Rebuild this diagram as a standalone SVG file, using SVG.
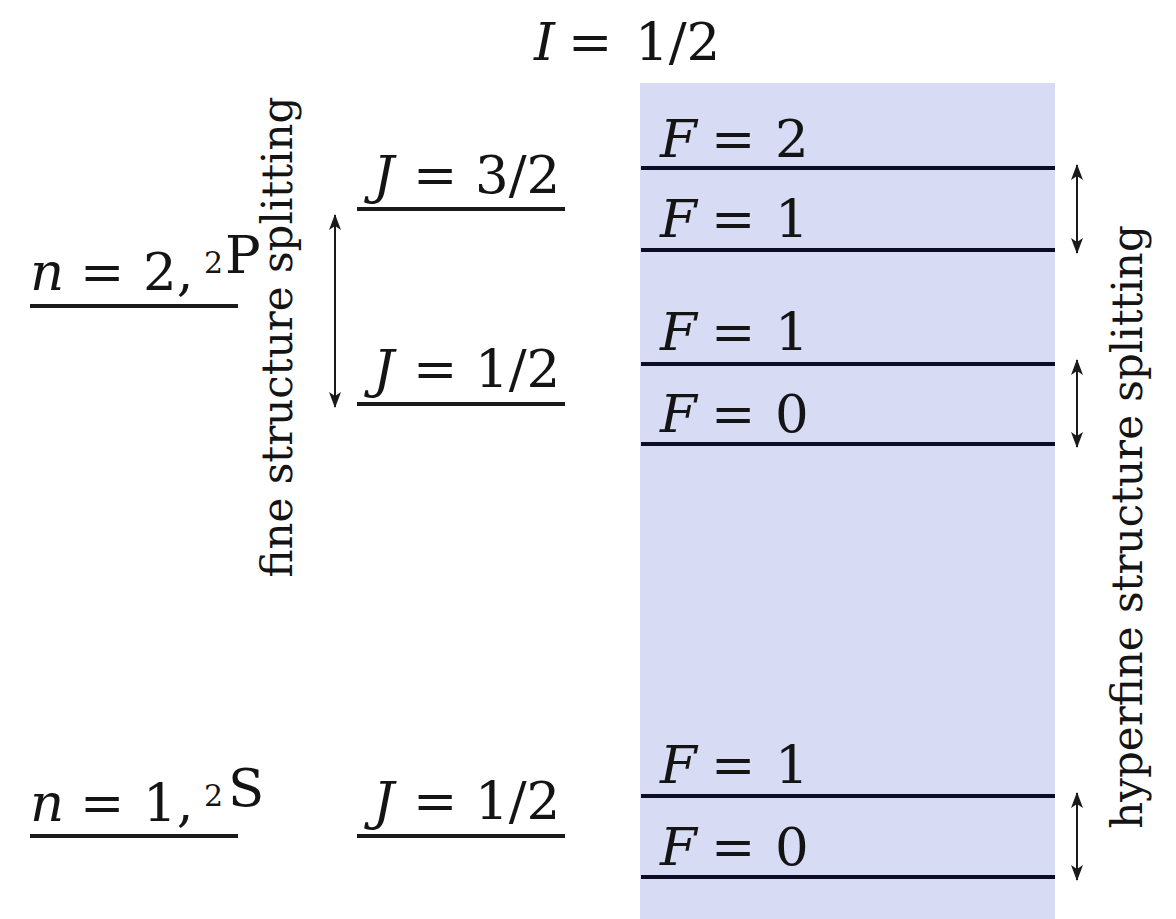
<svg xmlns="http://www.w3.org/2000/svg" width="1176" height="919" viewBox="0 0 1176 919">
<style>
text{font-family:"DejaVu Serif","Liberation Serif",serif;fill:#141414;}
.lab{font-size:53px;}
.it{font-style:italic;}
.sup{font-size:30px;}
.rot{font-size:42px;}
.lvl{stroke:#1a1a1a;stroke-width:4;fill:none;}
.hf{stroke:#0c0c24;stroke-width:4;fill:none;}
.arr{stroke:#1a1a1a;stroke-width:2;fill:none;marker-start:url(#ah);marker-end:url(#ah);}
</style>
<defs>
<marker id="ah" viewBox="0 0 16 12" refX="15" refY="6" markerWidth="16" markerHeight="12" markerUnits="userSpaceOnUse" orient="auto-start-reverse">
<path d="M0,0 L16,6 L0,12 L4,6 Z" fill="#1a1a1a"/>
</marker>
</defs>
<rect id="hyperfine-band" x="640" y="83" width="415" height="836" fill="#d7dbf4"/>
<g id="title"><text class="lab" y="60"><tspan class="it" x="534">I</tspan><tspan x="568">=</tspan><tspan x="635">1/2</tspan></text></g>
<g id="n2">
<line class="lvl" x1="30" y1="306" x2="238" y2="306"/>
<text class="lab" y="290"><tspan class="it" x="30">n</tspan><tspan x="80">=</tspan><tspan x="143">2,</tspan></text>
<text class="sup" x="204" y="273">2</text>
<text class="lab" x="225" y="273">P</text>
</g>
<g id="n1">
<line class="lvl" x1="30" y1="836" x2="238" y2="836"/>
<text class="lab" y="821"><tspan class="it" x="30">n</tspan><tspan x="80">=</tspan><tspan x="143">1,</tspan></text>
<text class="sup" x="204" y="806">2</text>
<text class="lab" x="228" y="806">S</text>
</g>
<g id="j32">
<line class="lvl" x1="357" y1="209" x2="565" y2="209"/>
<text class="lab" y="193"><tspan class="it" x="373">J</tspan><tspan x="413">=</tspan><tspan x="475">3/2</tspan></text>
</g>
<g id="j12p">
<line class="lvl" x1="357" y1="404" x2="565" y2="404"/>
<text class="lab" y="387"><tspan class="it" x="373">J</tspan><tspan x="413">=</tspan><tspan x="475">1/2</tspan></text>
</g>
<g id="j12s">
<line class="lvl" x1="357" y1="836" x2="565" y2="836"/>
<text class="lab" y="819"><tspan class="it" x="373">J</tspan><tspan x="413">=</tspan><tspan x="475">1/2</tspan></text>
</g>
<g id="f2"><line class="hf" x1="641" y1="168" x2="1055" y2="168"/><text class="lab" y="157"><tspan class="it" x="660">F</tspan><tspan x="711">=</tspan><tspan x="775">2</tspan></text></g>
<g id="f1a"><line class="hf" x1="641" y1="250" x2="1055" y2="250"/><text class="lab" y="237"><tspan class="it" x="660">F</tspan><tspan x="711">=</tspan><tspan x="775">1</tspan></text></g>
<g id="f1b"><line class="hf" x1="641" y1="364" x2="1055" y2="364"/><text class="lab" y="350"><tspan class="it" x="660">F</tspan><tspan x="711">=</tspan><tspan x="775">1</tspan></text></g>
<g id="f0b"><line class="hf" x1="641" y1="444" x2="1055" y2="444"/><text class="lab" y="432"><tspan class="it" x="660">F</tspan><tspan x="711">=</tspan><tspan x="775">0</tspan></text></g>
<g id="f1c"><line class="hf" x1="641" y1="796" x2="1055" y2="796"/><text class="lab" y="783"><tspan class="it" x="660">F</tspan><tspan x="711">=</tspan><tspan x="775">1</tspan></text></g>
<g id="f0c"><line class="hf" x1="641" y1="877" x2="1055" y2="877"/><text class="lab" y="865"><tspan class="it" x="660">F</tspan><tspan x="711">=</tspan><tspan x="775">0</tspan></text></g>
<g id="fine-label"><text class="rot" text-anchor="middle" transform="translate(292,337) rotate(-90)">fine structure splitting</text></g>
<g id="hyperfine-label"><text class="rot" text-anchor="middle" transform="translate(1142,527) rotate(-90)">hyperfine structure splitting</text></g>
<g id="connectors">
<line class="arr" x1="335" y1="215" x2="335" y2="407"/>
<line class="arr" x1="1077" y1="165" x2="1077" y2="253"/>
<line class="arr" x1="1077" y1="360" x2="1077" y2="447"/>
<line class="arr" x1="1077" y1="793" x2="1077" y2="880"/>
</g>
</svg>
